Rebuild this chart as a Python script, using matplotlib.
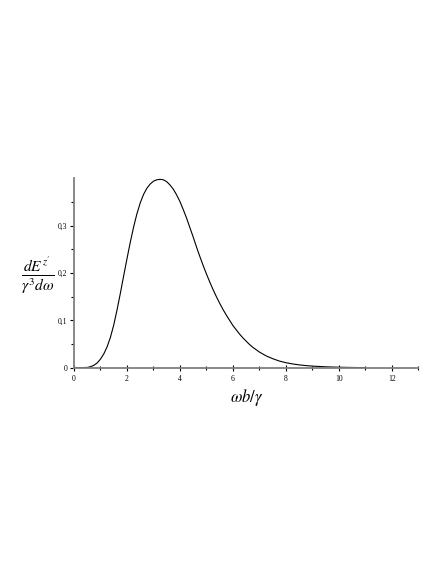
import matplotlib
matplotlib.use('Agg')
import matplotlib.pyplot as plt
from matplotlib.ticker import FixedLocator

plt.rcParams['mathtext.fontset'] = 'stix'
plt.rcParams['font.family'] = ['Liberation Serif', 'DejaVu Serif']

AXIS_COLOR = '#7f7f7f'

# values
x_vals = [0, 0.25, 0.5, 0.625, 0.75, 0.875, 1.0, 1.125, 1.25, 1.375, 1.5,
          1.625, 1.75, 1.875, 2.0, 2.125, 2.25, 2.375, 2.5, 2.625, 2.75,
          2.875, 3.0, 3.125, 3.25, 3.375, 3.5, 3.625, 3.75, 3.875, 4.0,
          4.125, 4.25, 4.375, 4.5, 4.625, 4.75, 4.875, 5.0, 5.125, 5.25,
          5.375, 5.5, 5.625, 5.75, 5.875, 6.0, 6.125, 6.25, 6.375, 6.5,
          6.625, 6.75, 6.875, 7.0, 7.125, 7.25, 7.375, 7.5, 7.75, 8.0,
          8.25, 8.5, 8.75, 9.0, 9.5, 10.0, 10.5, 11.0]
y_vals = [0, 0, 0.0005, 0.002, 0.005, 0.010, 0.018, 0.029, 0.044, 0.064,
          0.090, 0.122, 0.157, 0.194, 0.230, 0.265, 0.297, 0.325, 0.348,
          0.366, 0.379, 0.388, 0.394, 0.397, 0.398, 0.397, 0.393, 0.386,
          0.377, 0.365, 0.351, 0.334, 0.316, 0.296, 0.276, 0.255, 0.235,
          0.216, 0.198, 0.181, 0.165, 0.150, 0.136, 0.123, 0.111, 0.100,
          0.089, 0.080, 0.071, 0.063, 0.056, 0.049, 0.043, 0.038, 0.033,
          0.029, 0.025, 0.022, 0.019, 0.014, 0.0105, 0.0079, 0.0059, 0.0044,
          0.0033, 0.0018, 0.0009, 0.0004, 0.0001]

x_ticks = [0, 2, 4, 6, 8, 10, 12]
x_minor = [1, 3, 5, 7, 9, 11, 13]
y_ticks = [0, 0.1, 0.2, 0.3]
y_minor = [0.05, 0.15, 0.25, 0.35]
y_ticklabels = ['0', '0,1', '0,2', '0,3']

fig = plt.figure(figsize=(4.47, 5.78), dpi=100)
fig.patch.set_facecolor('white')
ax = fig.add_axes([0.1655, 0.3639, 0.7705, 0.3275])

ax.plot(x_vals, y_vals, color='black', linewidth=0.8, zorder=1)

ax.set_xlim(0, 13)
ax.set_ylim(0, 0.4)

for side in ['top', 'right']:
    ax.spines[side].set_visible(False)
for side in ['left', 'bottom']:
    ax.spines[side].set_color(AXIS_COLOR)
    ax.spines[side].set_linewidth(1.3)
    ax.spines[side].set_zorder(3)

ax.xaxis.set_major_locator(FixedLocator(x_ticks))
ax.xaxis.set_minor_locator(FixedLocator(x_minor))
ax.yaxis.set_major_locator(FixedLocator(y_ticks))
ax.yaxis.set_minor_locator(FixedLocator(y_minor))
ax.set_yticklabels(y_ticklabels)

ax.tick_params(axis='x', which='both', direction='inout', color='black',
               labelsize=5.5, pad=3)
ax.tick_params(axis='x', which='major', length=4, width=0.8)
ax.tick_params(axis='x', which='minor', length=3, width=0.8)
ax.tick_params(axis='y', which='both', direction='out', color='black',
               labelsize=5.5, pad=2)
ax.tick_params(axis='y', which='major', length=3, width=0.8)
ax.tick_params(axis='y', which='minor', length=2, width=0.8)

fig.text(38 / 447, 1 - 276 / 578, r'$\frac{dE^{z^{\prime}}}{\gamma^{3}d\omega}$',
         ha='center', va='center', fontsize=16)
fig.text(247 / 447, 1 - 397 / 578, r'$\omega b/\gamma$',
         ha='center', va='center', fontsize=12)

plt.savefig('out.png', dpi=100, facecolor='white')
plt.close()
